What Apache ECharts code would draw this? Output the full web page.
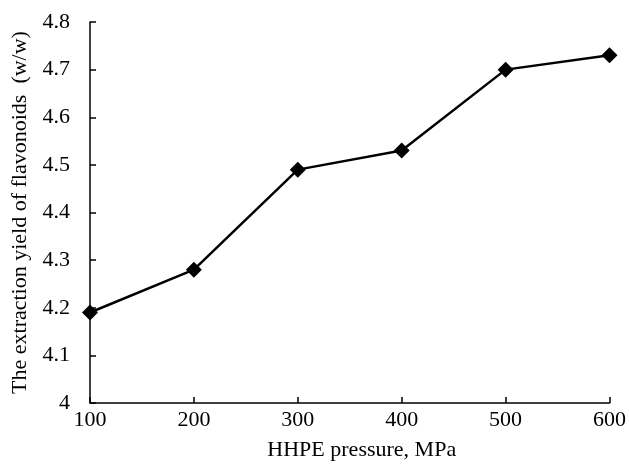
<!DOCTYPE html>
<html><head><meta charset="utf-8">
<script src="https://cdn.jsdelivr.net/npm/echarts@6/dist/echarts.min.js"></script>
<style>html,body{margin:0;padding:0;background:#fff}#c{width:629px;height:466px}</style>
</head><body><div id="c"></div>
<script>
var pressures = [100, 200, 300, 400, 500, 600];
var yields = [4.19, 4.28, 4.49, 4.53, 4.70, 4.73];
var xTitle = 'HHPE pressure, MPa';
var yTitle = 'The extraction yield of flavonoids  (w/w)';

var chart = echarts.init(document.getElementById('c'));
var font = '"Liberation Serif", "DejaVu Serif", serif';
chart.setOption({
  animation: false,
  backgroundColor: '#fff',
  grid: {left: 90, right: 17, top: 22, bottom: 61},
  xAxis: {
    type: 'value', min: 100, max: 600, interval: 100,
    name: xTitle, nameLocation: 'middle', nameGap: 36,
    nameTextStyle: {fontFamily: font, fontSize: 22, color: '#000', padding: [0, 0, 0, 24]},
    axisLine: {lineStyle: {color: '#000', width: 1.5}},
    axisTick: {inside: true, length: 6, lineStyle: {color: '#000', width: 1.5}},
    axisLabel: {fontFamily: font, fontSize: 22, color: '#000', margin: 6},
    splitLine: {show: false}
  },
  yAxis: {
    type: 'value', min: 4, max: 4.8, interval: 0.1,
    name: yTitle, nameLocation: 'middle', nameGap: 57,
    nameTextStyle: {fontFamily: font, fontSize: 22, color: '#000'},
    axisLine: {show: true, lineStyle: {color: '#000', width: 1.5}},
    axisTick: {show: true, inside: true, length: 6, lineStyle: {color: '#000', width: 1.5}},
    axisLabel: {fontFamily: font, fontSize: 22, color: '#000', margin: 20,
      formatter: function(v){ return v === 4 ? '4' : v.toFixed(1); }},
    splitLine: {show: false}
  },
  series: [{
    type: 'line', data: pressures.map(function(p, i){ return [p, yields[i]]; }),
    symbol: 'diamond', symbolSize: 16,
    lineStyle: {color: '#000', width: 2.5},
    itemStyle: {color: '#000'}
  }]
});
</script></body></html>
